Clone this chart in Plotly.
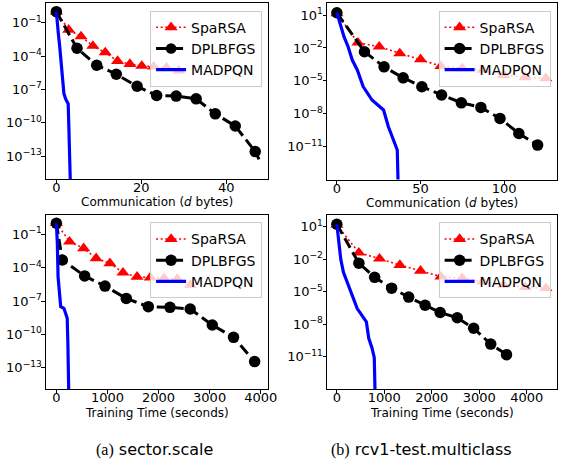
import plotly.graph_objects as go

W, H = 566, 467

# ---------------- data ----------------
# (a) sector.scale, communication
tl_sparsa_x = [0, 2.9, 5.8, 8.6, 11.5, 14.4, 17.3, 20.1, 22.9, 25.9, 28.8]
tl_sparsa_y = [1.0, 2.3e-2, 5.8e-3, 8.1e-4, 2.1e-4, 3.5e-5, 1.9e-5, 1.3e-5, 1.1e-5, 8.9e-6, 4.8e-6]
tl_dpl_x = [0, 4.86, 9.49, 14.1, 19.0, 23.6, 28.2, 32.9, 37.4, 42.1, 46.8, 47.7]
tl_dpl_y = [1.0, 5.0e-4, 1.5e-5, 2.3e-6, 1.9e-7, 2.8e-8, 2.5e-8, 1.4e-8, 6.3e-10, 5.0e-11, 2.5e-13, 5e-14]
tl_mad_x = [0, 0.23, 0.46, 0.79, 1.02, 1.39, 1.78, 2.18, 2.78, 2.94, 3.10, 3.33]
tl_mad_y = [1.0, 0.19, 1.1e-2, 7.1e-4, 4.4e-5, 1.3e-6, 4.0e-8, 1.4e-8, 5.0e-9, 4.0e-11, 3.2e-13, 1e-16]

# (b) rcv1-test.multiclass, communication
tr_sparsa_x = [0, 12.6, 25.3, 37.6, 50, 62.2, 74.9, 87.3, 99.6, 112.6, 124.9]
tr_sparsa_y = [14, 3.0e-2, 1.3e-2, 3.2e-3, 9.1e-4, 2.2e-4, 1.4e-4, 9.8e-5, 3.4e-5, 2.1e-5, 1.7e-5]
tr_dpl_x = [0, 16.5, 28.2, 39.6, 50.8, 62.6, 74.4, 86.1, 97.5, 108.8, 120]
tr_dpl_y = [16, 4.5e-3, 1.9e-4, 1.9e-5, 2.9e-6, 5.1e-7, 1.0e-7, 3.8e-8, 3.8e-9, 1.6e-10, 1.4e-11]
tr_mad_x = [0, 2.4, 4.3, 6.7, 9.2, 12.2, 15.7, 21, 27.9, 30.8, 33.8, 36.1, 36.7]
tr_mad_y = [16, 0.85, 0.10, 1.3e-2, 7.9e-4, 9.8e-5, 3.0e-6, 1.8e-7, 2.2e-8, 6.6e-10, 4.0e-11, 5.0e-12, 1e-15]

# (a) sector.scale, training time
bl_sparsa_x = [0, 258, 534, 778, 1048, 1304, 1580, 1838, 2108, 2364, 2620]
bl_sparsa_y = [1.0, 2.2e-2, 5.5e-3, 6.9e-4, 2.5e-4, 3.5e-5, 1.5e-5, 1.3e-5, 1.1e-5, 9.5e-6, 2.8e-6]
bl_dpl_x = [0, 116, 553, 952, 1368, 1800, 2224, 2620, 3052, 3468, 3881]
bl_dpl_y = [1.0, 4.9e-4, 1.8e-5, 2.2e-6, 1.7e-7, 3.1e-8, 2.7e-8, 1.9e-8, 6.9e-10, 5.4e-11, 3.5e-13]
bl_mad_x = [0, 19, 33, 52, 85, 148, 212, 225, 245]
bl_mad_y = [1.0, 1.5e-2, 1.5e-5, 1.0e-6, 3.1e-8, 2.2e-8, 2.8e-9, 1.6e-11, 1e-16]

# (b) rcv1-test.multiclass, training time
br_sparsa_x = [0, 464, 899, 1327, 1762, 2191, 2640, 3075, 3511, 3967, 4402]
br_sparsa_y = [14, 3.9e-2, 1.1e-2, 2.8e-3, 8.3e-4, 2.4e-4, 1.7e-4, 8.3e-5, 4.2e-5, 2.6e-5, 2.1e-5]
br_dpl_x = [0, 464, 796, 1154, 1513, 1859, 2176, 2536, 2881, 3241, 3573]
br_dpl_y = [16, 4.2e-3, 2.1e-4, 2.1e-5, 3.2e-6, 5.6e-7, 1.2e-7, 4.0e-8, 4.3e-9, 1.5e-10, 1.6e-11]
br_mad_x = [0, 29, 83, 139, 222, 325, 429, 622, 671, 740, 788, 808]
br_mad_y = [16, 0.62, 9.5e-3, 6.0e-4, 7.4e-5, 4.5e-6, 2.8e-7, 1.7e-8, 5.4e-10, 6.6e-11, 8.3e-12, 1e-15]

series_names = ["SpaRSA", "DPLBFGS", "MADPQN"]
left_yticks = [-1, -4, -7, -10, -13]
right_yticks = [1, -2, -5, -8, -11]
top_x_title = "Communication (<i>d</i> bytes)"
bottom_x_title = "Training Time (seconds)"
captions = ["<span style='font-family:Liberation Serif'>(a)</span> sector.scale",
            "<span style='font-family:Liberation Serif'>(b)</span> rcv1-test.multiclass"]

# ---------------- layout helpers ----------------
FONT = "DejaVu Sans"

def fx(px):
    return px / W

def fy(py):
    return 1 - py / H

panels = [
    ("", (46.7, 272.3), (3.3, 179.0), [-2.45, 49.8], [-15.07, 0.75], left_yticks,
     (tl_sparsa_x, tl_sparsa_y, tl_dpl_x, tl_dpl_y, tl_mad_x, tl_mad_y), "legend", top_x_title),
    ("2", (332.3, 565.5), (3.3, 179.5), [-5.9, 131.3], [-13.99, 2.07], right_yticks,
     (tr_sparsa_x, tr_sparsa_y, tr_dpl_x, tr_dpl_y, tr_mad_x, tr_mad_y), "legend2", top_x_title),
    ("3", (46.7, 272.3), (215.0, 389.0), [-204, 4142], [-14.92, 0.74], left_yticks,
     (bl_sparsa_x, bl_sparsa_y, bl_dpl_x, bl_dpl_y, bl_mad_x, bl_mad_y), "legend3", bottom_x_title),
    ("4", (332.3, 565.5), (215.0, 389.0), [-207, 4626], [-13.96, 2.06], right_yticks,
     (br_sparsa_x, br_sparsa_y, br_dpl_x, br_dpl_y, br_mad_x, br_mad_y), "legend4", bottom_x_title),
]

fig = go.Figure()
layout = dict(
    width=W, height=H, margin=dict(l=0, r=0, t=0, b=0),
    paper_bgcolor="white", plot_bgcolor="white",
    font=dict(family=FONT, size=13, color="black"),
    annotations=[],
)

def sup(n):
    s = str(n).replace("-", "\u2212")
    return "10<sup>" + s + "</sup>"

for suffix, xd, yd, xr, yr, yt, data, leg, xtitle in panels:
    sx, sy, dx, dy, mx, my = data
    xa = "x" + suffix
    ya = "y" + suffix
    dpl_sizes = [11.5] * len(dx)
    if suffix == "":
        dpl_sizes[-1] = 0
    fig.add_trace(go.Scatter(
        x=sx, y=sy, mode="lines+markers", name=series_names[0],
        line=dict(color="#ff0000", width=1.6, dash="2px,2.6px"),
        marker=dict(symbol="triangle-up", size=11.5, color="#ff0000", opacity=1,
                    line=dict(width=0)),
        xaxis=xa, yaxis=ya, legend=leg))
    fig.add_trace(go.Scatter(
        x=dx, y=dy, mode="lines+markers", name=series_names[1],
        line=dict(color="black", width=3, dash="11px,5px"),
        marker=dict(symbol="circle", size=dpl_sizes, color="black", opacity=1,
                    line=dict(width=0, color="black")),
        xaxis=xa, yaxis=ya, legend=leg))
    fig.add_trace(go.Scatter(
        x=mx, y=my, mode="lines", name=series_names[2],
        line=dict(color="#0000ff", width=3.2),
        xaxis=xa, yaxis=ya, legend=leg))

    anchor_y = "y" + suffix
    anchor_x = "x" + suffix
    layout["xaxis" + suffix] = dict(
        domain=[fx(xd[0]), fx(xd[1])], range=xr, anchor=anchor_y,
        showline=True, linecolor="black", linewidth=1, mirror=True,
        ticks="outside", ticklen=3.5, tickwidth=0.8, tickcolor="black",
        showgrid=False, zeroline=False, ticklabelstandoff=-7,
        tickfont=dict(family=FONT, size=13, color="black"),
    )
    layout["yaxis" + suffix] = dict(
        domain=[fy(yd[1]), fy(yd[0])], range=yr, type="log", anchor=anchor_x,
        showline=True, linecolor="black", linewidth=1, mirror=True,
        ticks="outside", ticklen=3.5, tickwidth=0.8, tickcolor="black",
        showgrid=False, zeroline=False, ticklabelstandoff=-3,
        tickvals=[10 ** v for v in yt], ticktext=[sup(v) for v in yt],
        tickfont=dict(family=FONT, size=13, color="black"),
    )
    layout[leg] = dict(
        x=fx(xd[1] - 6), y=fy(yd[0] + 7.4), xanchor="right", yanchor="top",
        bgcolor="rgba(255,255,255,0.8)", bordercolor="#cccccc", borderwidth=1,
        font=dict(family=FONT, size=14, color="black"),
        tracegroupgap=0,
    )
    layout["annotations"].append(dict(
        text=xtitle, x=fx((xd[0] + xd[1]) / 2), y=fy(yd[1] + 23.5),
        xref="paper", yref="paper", xanchor="center", yanchor="middle",
        showarrow=False, font=dict(family=FONT, size=12, color="black")))

for cap, cx in zip(captions, [157, 428]):
    layout["annotations"].append(dict(
        text=cap, x=fx(cx), y=fy(449), xref="paper", yref="paper",
        xanchor="center", yanchor="middle", showarrow=False,
        font=dict(family="DejaVu Sans", size=16, color="black")))

fig.update_layout(**layout)
fig.write_html("out.html")
